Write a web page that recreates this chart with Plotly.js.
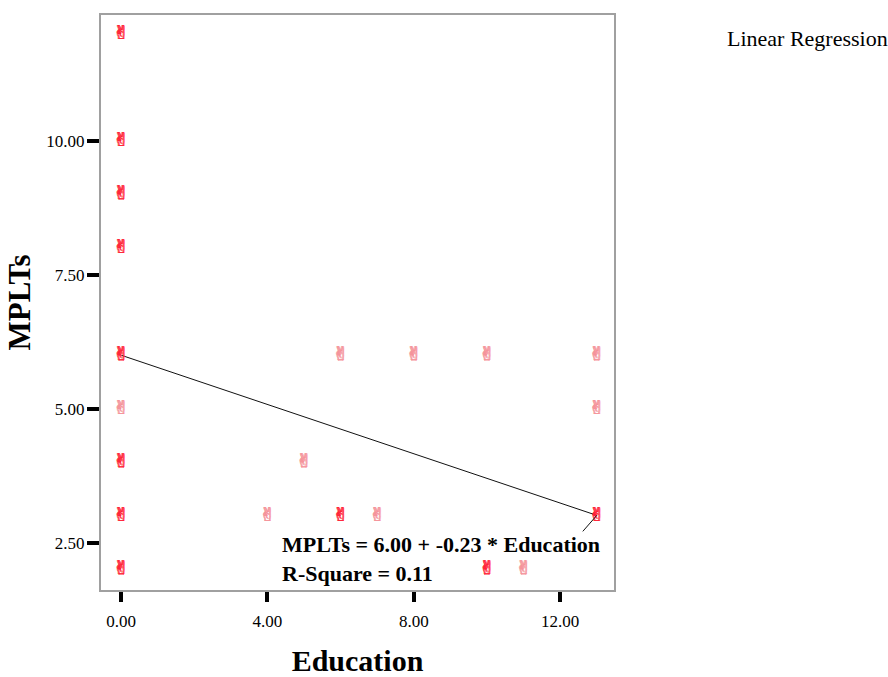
<!DOCTYPE html>
<html>
<head>
<meta charset="utf-8">
<script src="https://cdn.plot.ly/plotly-3.0.1.min.js"></script>
<style>html,body{margin:0;padding:0;background:#fff;}#chart{width:888px;height:677px;}</style>
</head>
<body>
<div id="chart"></div>
<script>
// Observed data points (Education, MPLTs) and how many cases overlap at each point
const education = [0, 0, 0, 0, 0, 0, 0, 0, 0, 4, 5, 6, 6, 7, 8, 10, 10, 11, 13, 13, 13];
const mplts     = [12, 10, 9, 8, 6, 5, 4, 3, 2, 3, 4, 6, 3, 3, 6, 6, 2, 2, 6, 5, 3];
const overlap   = [2, 2, 2, 2, 3, 1, 2, 3, 3, 1, 1, 1, 2, 1, 1, 1, 2, 1, 1, 1, 2];

// Fitted linear regression
const regIntercept = 6.00;
const regSlope = -0.23;
const rSquare = 0.11;
const regX = [0, 13];

const xTicks = [0, 4, 8, 12];
const xTickText = ["0.00", "4.00", "8.00", "12.00"];
const yTicks = [2.5, 5, 7.5, 10];
const yTickText = ["2.50", "5.00", "7.50", "10.00"];

const regY = regX.map(x => regIntercept + regSlope * x);

const serif = 'Liberation Serif, Times New Roman, serif';

function glyphTrace(multi, color) {
  const idx = overlap.map((n, i) => i).filter(i => (overlap[i] > 1) === multi);
  return {
    x: idx.map(i => education[i]), y: idx.map(i => mplts[i]),
    type: 'scatter', mode: 'text',
    text: idx.map(() => '\u270C'),
    textposition: 'middle center',
    textfont: {family: 'DejaVu Sans', size: 19, weight: 'bold', color: color,
               shadow: '0.6px 0 0 ' + color + ', -0.6px 0 0 ' + color + ', 0 0.6px 0 ' + color},
    showlegend: false
  };
}

const traces = [
  {
    x: regX, y: regY, type: 'scatter', mode: 'lines',
    line: {color: '#111111', width: 1}, hoverinfo: 'skip', showlegend: false
  },
  glyphTrace(false, '#f5939a'),
  glyphTrace(true, '#ff2236')
];

const endY = regY[regY.length - 1];

const layout = {
  width: 888, height: 677,
  margin: {l: 101, r: 274, t: 15, b: 87},
  paper_bgcolor: '#ffffff', plot_bgcolor: '#ffffff',
  showlegend: false,
  font: {family: serif, color: '#000'},
  xaxis: {
    range: [-0.55, 13.47],
    tickvals: xTicks, ticktext: xTickText,
    ticks: 'outside', ticklen: 10, tickwidth: 4, tickcolor: '#000',
    ticklabelstandoff: 5,
    showline: true, mirror: true, linecolor: '#a0a0a0', linewidth: 2,
    showgrid: false, zeroline: false,
    tickfont: {family: serif, size: 17, color: '#000'},
    title: {text: '<b>Education</b>', font: {family: serif, size: 30, color: '#000'}, standoff: 30}
  },
  yaxis: {
    range: [1.617, 12.35],
    tickvals: yTicks, ticktext: yTickText,
    ticks: 'outside', ticklen: 12, tickwidth: 4, tickcolor: '#000',
    ticklabelstandoff: -1,
    showline: true, mirror: true, linecolor: '#a0a0a0', linewidth: 2,
    showgrid: false, zeroline: false,
    tickfont: {family: serif, size: 17, color: '#000'},
    title: {text: '<b>MPLTs</b>', font: {family: serif, size: 31, color: '#000'}, standoff: 6}
  },
  shapes: [
    {
      type: 'line', xref: 'x', yref: 'y',
      xsizemode: 'pixel', xanchor: regX[regX.length - 1], x0: 0, x1: -14,
      ysizemode: 'pixel', yanchor: endY, y0: 0, y1: -16,
      line: {color: '#111111', width: 1}
    }
  ],
  annotations: [
    {
      xref: 'paper', yref: 'paper', x: 0.349, y: 0.054,
      xanchor: 'left', yanchor: 'middle', align: 'left', showarrow: false,
      text: '<b>MPLTs = ' + regIntercept.toFixed(2) + ' + ' + regSlope.toFixed(2) + ' * Education</b><br><b>R-Square = ' + rSquare.toFixed(2) + '</b>',
      font: {family: serif, size: 22, color: '#000'}
    },
    {
      xref: 'paper', yref: 'paper', x: 1.216, y: 0.96,
      xanchor: 'left', yanchor: 'middle', showarrow: false,
      text: 'Linear Regression',
      font: {family: serif, size: 22, color: '#000'}
    }
  ]
};

Plotly.newPlot('chart', traces, layout, {displayModeBar: false, staticPlot: true});
</script>
</body>
</html>
